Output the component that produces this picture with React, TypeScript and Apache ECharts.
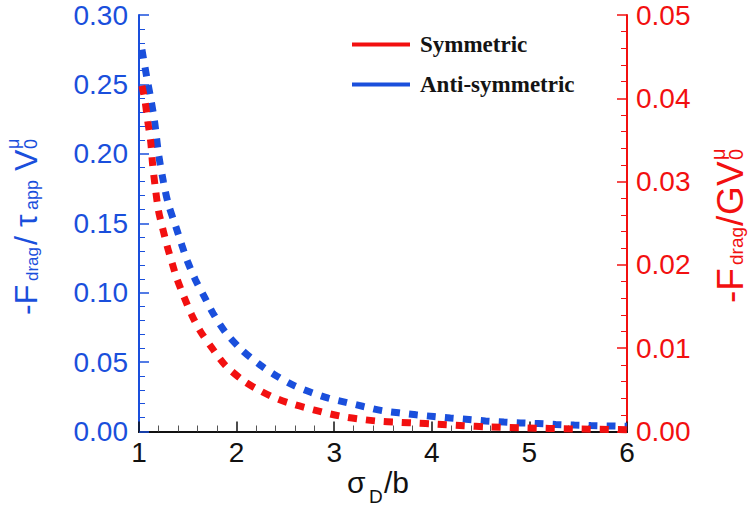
import React, { useEffect, useRef } from "react";
import * as echarts from "echarts";

const xTicks = [1, 2, 3, 4, 5, 6];
const seriesNames = ["Symmetric", "Anti-symmetric"];

// Anti-symmetric (left axis, -F_drag / tau_app V0^mu)
const antiX = [1.03, 1.08, 1.12, 1.16, 1.2, 1.25, 1.3, 1.38, 1.44, 1.5, 1.58, 1.67, 1.76, 1.88, 2.05, 2.24, 2.41, 2.59, 2.77, 2.94, 3.12, 3.3, 3.49, 3.66, 3.84, 4.02, 4.19, 4.38, 4.55, 4.74, 4.91, 5.09, 5.27, 5.46, 5.63, 5.82, 6.0];
const antiY = [0.275, 0.255, 0.24, 0.223, 0.2, 0.18, 0.164, 0.147, 0.134, 0.122, 0.109, 0.097, 0.085, 0.072, 0.059, 0.048, 0.04, 0.033, 0.028, 0.024, 0.021, 0.018, 0.015, 0.0135, 0.012, 0.0108, 0.0097, 0.0086, 0.0076, 0.0068, 0.0062, 0.0057, 0.0051, 0.0046, 0.0043, 0.004, 0.0037];

// Symmetric (right axis, -F_drag / G V0^mu)
const symX = [1.03, 1.06, 1.09, 1.12, 1.14, 1.17, 1.2, 1.24, 1.29, 1.34, 1.39, 1.46, 1.54, 1.63, 1.75, 1.88, 2.07, 2.24, 2.42, 2.6, 2.79, 2.96, 3.13, 3.32, 3.49, 3.68, 3.85, 4.02, 4.33, 4.57, 4.95, 5.46, 6.0];
const symY = [0.0415, 0.0398, 0.0372, 0.0348, 0.032, 0.029, 0.0265, 0.0245, 0.0222, 0.0202, 0.0183, 0.0162, 0.014, 0.012, 0.01, 0.008, 0.0061, 0.0049, 0.0039, 0.0032, 0.0026, 0.0021, 0.0017, 0.0014, 0.0012, 0.0011, 0.001, 0.0009, 0.0007, 0.00056, 0.00044, 0.0003, 0.00022];

const BLUE = "#1a4fdc";
const RED = "#f21010";
const SANS = "Liberation Sans, Arial, sans-serif";

type Piece = [string, number, number, number];

const leftTitle: Piece[] = [
  ["-F", 32, 26, 315],
  ["drag", 17, 32, 281],
  ["/", 32, 26, 245],
  ["τ", 32, 26, 227],
  ["app", 18, 32, 210],
  ["V", 32, 26, 171],
  ["0", 18, 31, 149],
  ["μ", 18, 13, 149],
];

const rightTitle: Piece[] = [
  ["-F", 37, 730, 303],
  ["drag", 19, 736, 265],
  ["/", 37, 730, 226],
  ["G", 37, 730, 215],
  ["V", 37, 730, 186],
  ["0", 20, 736, 160],
  ["μ", 20, 718, 160],
];

const xTitle: Piece[] = [
  ["σ", 30, 347, 482.5],
  ["D", 19, 369, 496],
  ["/b", 30, 384, 482.5],
];

function rotated(pieces: Piece[], color: string) {
  return pieces.map(([t, fs, cx, y]) => ({
    type: "text",
    x: cx,
    y,
    rotation: Math.PI / 2,
    style: {
      text: t,
      fontSize: fs,
      fontFamily: SANS,
      fill: color,
      align: "left",
      verticalAlign: "middle",
    },
  }));
}

function flat(pieces: Piece[], color: string) {
  return pieces.map(([t, fs, x, cy]) => ({
    type: "text",
    x,
    y: cy,
    style: {
      text: t,
      fontSize: fs,
      fontFamily: SANS,
      fill: color,
      align: "left",
      verticalAlign: "middle",
    },
  }));
}

export default function App() {
  const ref = useRef<HTMLDivElement>(null);
  useEffect(() => {
    document.body.style.margin = "0";
    if (!ref.current) return;
    const chart = echarts.init(ref.current, undefined, { renderer: "svg" });
    chart.setOption({
      animation: false,
      backgroundColor: "#ffffff",
      grid: { left: 139, right: 128, top: 15, bottom: 74.5, containLabel: false },
      legend: {
        orient: "vertical",
        left: 352,
        top: 33,
        padding: 0,
        itemWidth: 58,
        itemHeight: 4,
        itemGap: 17,
        icon: "rect",
        data: seriesNames,
        textStyle: {
          fontFamily: "Liberation Serif, Times New Roman, serif",
          fontWeight: "bold",
          fontSize: 23,
          lineHeight: 23,
          color: "#141414",
          padding: [0, 0, 0, 5],
        },
      },
      xAxis: [
        {
          type: "value",
          min: 1,
          max: 6,
          interval: 1,
          position: "bottom",
          axisLine: { show: true, lineStyle: { color: "#111", width: 2 } },
          splitLine: { show: false },
          axisTick: { show: true, inside: true, length: 10, lineStyle: { color: "#111", width: 1.5 } },
          minorTick: { show: true, splitNumber: 5, length: 6, lineStyle: { color: "#555", width: 1 } },
          axisLabel: { fontSize: 28, fontFamily: SANS, color: "#111", margin: 7, formatter: (v: number) => String(v) },
        },
        {
          type: "value",
          min: 1,
          max: 6,
          position: "top",
          axisLine: { show: true, lineStyle: { color: "#111", width: 2 } },
          axisTick: { show: false },
          axisLabel: { show: false },
          splitLine: { show: false },
        },
      ],
      yAxis: [
        {
          type: "value",
          min: 0,
          max: 0.3,
          interval: 0.05,
          position: "left",
          axisLine: { show: true, lineStyle: { color: BLUE, width: 2 } },
          splitLine: { show: false },
          axisTick: { show: true, inside: true, length: 10, lineStyle: { color: BLUE, width: 1.5 } },
          minorTick: { show: true, splitNumber: 5, length: 6, lineStyle: { color: BLUE, width: 1 } },
          axisLabel: { fontSize: 28, fontFamily: SANS, color: BLUE, margin: 11, formatter: (v: number) => v.toFixed(2) },
        },
        {
          type: "value",
          min: 0,
          max: 0.05,
          interval: 0.01,
          position: "right",
          axisLine: { show: true, lineStyle: { color: RED, width: 2 } },
          splitLine: { show: false },
          axisTick: { show: true, inside: true, length: 10, lineStyle: { color: RED, width: 1.5 } },
          minorTick: { show: true, splitNumber: 5, length: 6, lineStyle: { color: RED, width: 1 } },
          axisLabel: { fontSize: 28, fontFamily: SANS, color: RED, margin: 9, formatter: (v: number) => v.toFixed(2) },
        },
      ],
      series: [
        {
          name: seriesNames[0],
          type: "line",
          xAxisIndex: 0,
          yAxisIndex: 1,
          showSymbol: false,
          symbol: "none",
          smooth: 0.3,
          data: symX.map((x, i) => [x, symY[i]]),
          itemStyle: { color: RED },
          lineStyle: { color: RED, width: 7, type: [9, 9], cap: "butt" },
          z: 3,
        },
        {
          name: seriesNames[1],
          type: "line",
          xAxisIndex: 0,
          yAxisIndex: 0,
          showSymbol: false,
          symbol: "none",
          smooth: 0.3,
          data: antiX.map((x, i) => [x, antiY[i]]),
          itemStyle: { color: BLUE },
          lineStyle: { color: BLUE, width: 7, type: [9, 9], cap: "butt" },
          z: 2,
        },
      ],
      graphic: [
        ...rotated(leftTitle, BLUE),
        ...rotated(rightTitle, RED),
        ...flat(xTitle, "#111"),
      ],
    });
    return () => chart.dispose();
  }, []);
  return <div ref={ref} style={{ width: 755, height: 506 }} />;
}
